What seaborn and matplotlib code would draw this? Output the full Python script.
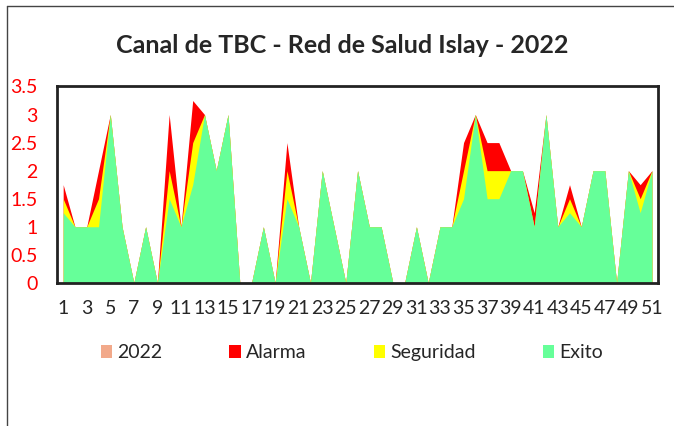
import numpy as np
import pandas as pd
import matplotlib
matplotlib.use("Agg")
import matplotlib.pyplot as plt
from matplotlib.patches import Patch
from matplotlib.lines import Line2D
import seaborn as sns

# Datos del canal endémico (semanas epidemiológicas 1-51)
semanas = list(range(1, 52))

exito = [1.25, 1, 1, 1, 3, 1, 0, 1, 0, 1.5,
         1, 1.75, 3, 2, 3, 0, 0, 1, 0, 1.5,
         1, 0, 2, 1, 0, 2, 1, 1, 0, 0,
         1, 0, 1, 1, 1.5, 3, 1.5, 1.5, 2, 2,
         1, 3, 1, 1.25, 1, 2, 2, 0, 2, 1.25,
         2]

seguridad = [1.5, 1, 1, 1.5, 3, 1, 0, 1, 0, 2,
             1, 2.5, 3, 2, 3, 0, 0, 1, 0, 2,
             1, 0, 2, 1, 0, 2, 1, 1, 0, 0,
             1, 0, 1, 1, 2, 3, 2, 2, 2, 2,
             1, 3, 1, 1.5, 1, 2, 2, 0, 2, 1.5,
             2]

alarma = [1.75, 1, 1, 2, 3, 1, 0, 1, 0, 3,
          1, 3.25, 3, 2, 3, 0, 0, 1, 0, 2.5,
          1, 0, 2, 1, 0, 2, 1, 1, 0, 0,
          1, 0, 1, 1, 2.5, 3, 2.5, 2.5, 2, 2,
          1.25, 3, 1, 1.75, 1, 2, 2, 0, 2, 1.75,
          2]

# casos 2022: no se ven en el gráfico (quedan detrás de las demás áreas)
casos_2022 = [0] * 51

df = pd.DataFrame({'semana': semanas, '2022': casos_2022, 'Alarma': alarma,
                   'Seguridad': seguridad, 'Exito': exito})

colores = {'2022': '#F2A98A', 'Alarma': '#FF0000',
           'Seguridad': '#FFFF00', 'Exito': '#66FF99'}

sns.set_theme(style='white')
plt.rcParams['font.family'] = ['Lato', 'DejaVu Sans']

fig = plt.figure(figsize=(6.74, 4.26), dpi=100)
ax = fig.add_axes([0.085, 0.336, 0.891, 0.461])

# áreas superpuestas (no apiladas), en el orden de Excel
for serie in ['2022', 'Alarma', 'Seguridad', 'Exito']:
    ax.fill_between(df['semana'], 0, df[serie], color=colores[serie],
                    linewidth=0)

ax.set_xlim(0.5, 51.5)
ax.set_ylim(0, 3.5)
ax.set_xticks(semanas[::2])
ax.set_xticklabels([str(s) for s in semanas[::2]], fontsize=14)
ax.set_yticks([0, 0.5, 1, 1.5, 2, 2.5, 3, 3.5])
ax.set_yticklabels(['0', '0.5', '1', '1.5', '2', '2.5', '3', '3.5'],
                   fontsize=14, color='red')
ax.tick_params(axis='x', length=0, pad=12)
ax.tick_params(axis='y', length=0, pad=14)
ax.grid(False)
for lado in ax.spines.values():
    lado.set_color('#222222')
    lado.set_linewidth(2)

fig.text(0.508, 0.893, 'Canal de TBC - Red de Salud Islay - 2022',
         ha='center', va='center', fontsize=18, fontweight='bold')

handles = [Patch(facecolor=colores[s], edgecolor='none', label=s)
           for s in ['2022', 'Alarma', 'Seguridad', 'Exito']]
fig.legend(handles=handles, loc='center', bbox_to_anchor=(0.522, 0.172),
           ncol=4, frameon=False, fontsize=14, handlelength=0.6,
           handleheight=0.6, handletextpad=0.25, columnspacing=3.45)

# borde del área del gráfico (recortado a la derecha y abajo)
fig.add_artist(Line2D([7 / 674, 7 / 674], [0, 1 - 6 / 426],
                      color='#444444', linewidth=1))
fig.add_artist(Line2D([7 / 674, 1], [1 - 6 / 426, 1 - 6 / 426],
                      color='#444444', linewidth=1))

fig.savefig('out.png', dpi=100)
